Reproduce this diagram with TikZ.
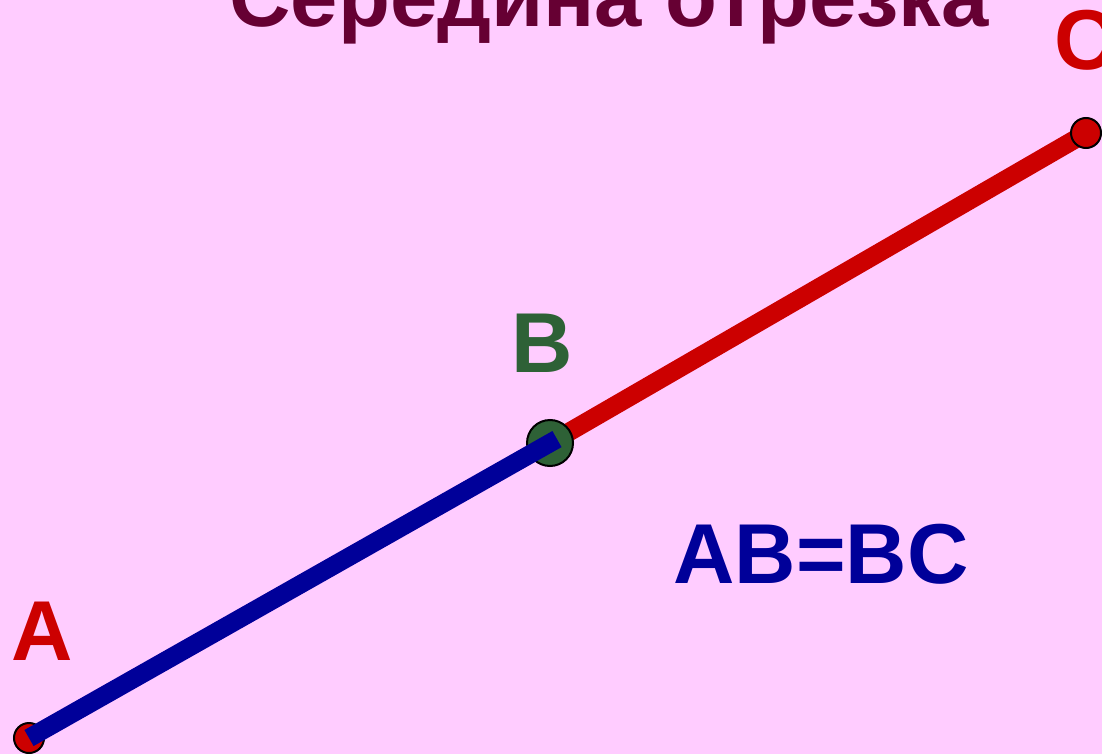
\documentclass[tikz,border=0pt]{standalone}
\usepackage{fontspec}
\setmainfont{Liberation Sans}
\usetikzlibrary{calc}
\definecolor{bg}{HTML}{FFCCFF}
\definecolor{segred}{HTML}{CC0000}
\definecolor{segblue}{HTML}{000099}
\definecolor{midgreen}{HTML}{2E6136}
\definecolor{titlecol}{HTML}{660033}
\tikzset{
  lbl/.style={font=\fontsize{85}{90}\selectfont\bfseries, inner sep=0pt, anchor=base},
  endpt/.style={circle, fill=segred, draw=black, line width=2pt, minimum size=30pt, inner sep=0pt},
  midpt/.style={circle, fill=midgreen, draw=black, line width=2pt, minimum size=46pt, inner sep=0pt},
  seg/.style={line width=18.5pt, line cap=butt}
}
\begin{document}
\begin{tikzpicture}[x=1pt,y=-1pt]
\useasboundingbox (0,0) rectangle (1102,754);
\fill[bg] (0,0) rectangle (1102,754);
\coordinate (A) at (29,738);
\coordinate (B) at (550,443);
\coordinate (C) at (1086,133);
\draw[seg, segred] (B) -- (C);
\node[midpt] (Bdot) at (B) {};
\node[endpt] (Adot) at (A) {};
\node[endpt] (Cdot) at (C) {};
\draw[seg, segblue] (A) -- ($(B)!-8pt!(A)$);
\node[lbl, text=titlecol] (title) at (609,27) {Середина отрезка};
\node[lbl, text=segred] (Alab) at (42,660) {A};
\node[lbl, text=midgreen] (Blab) at (542,372) {B};
\node[lbl, text=segred, anchor=base west] (Clab) at (1054,70) {C};
\node[lbl, text=segblue] (eq) at (821,583) {AB=BC};
\end{tikzpicture}
\end{document}
